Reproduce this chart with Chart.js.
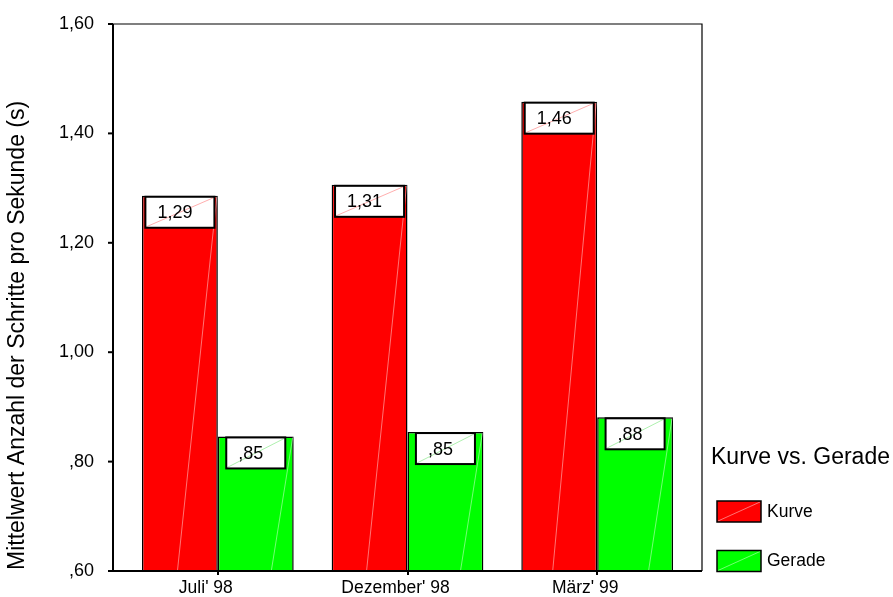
<!DOCTYPE html>
<html>
<head>
<meta charset="utf-8">
<script src="https://cdn.jsdelivr.net/npm/chart.js@4.4.0/dist/chart.umd.min.js"></script>
<style>
  html, body { margin: 0; padding: 0; background: #fff; }
  #wrap { width: 893px; height: 597px; }
</style>
</head>
<body>
<div id="wrap"><canvas id="c" width="893" height="597"></canvas></div>
<script>
// Daten
const categories = ["Juli' 98", "Dezember' 98", "März' 99"];
const kurve = [1.286, 1.306, 1.458];
const gerade = [0.846, 0.854, 0.881];
const seriesNames = ["Kurve", "Gerade"];
const seriesColors = ["#ff0000", "#00ff00"];
const yTicks = [0.6, 0.8, 1.0, 1.2, 1.4, 1.6];
const legendTitle = "Kurve vs. Gerade";
const yTitle = "Mittelwert Anzahl der Schritte pro Sekunde (s)";

const FONT = "'Liberation Sans', Arial, sans-serif";

// 0,85 -> ",85" (SPSS-Stil)
function fmt(v) {
  let s = v.toFixed(2).replace(".", ",");
  if (s.startsWith("0,")) s = s.slice(1);
  return s;
}

// Rahmen + Achsen-Extras
const FRAME = { left: 113, right: 702 };

const sketchPlugin = {
  id: "sketchPlugin",
  afterDatasetsDraw(chart) {
    const { ctx } = chart;
    ctx.save();
    chart.data.datasets.forEach((ds, di) => {
      const meta = chart.getDatasetMeta(di);
      meta.data.forEach((bar, i) => {
        const p = bar.getProps(["x", "y", "base", "width"], true);
        const l = p.x - p.width / 2, r = p.x + p.width / 2;
        // feine Diagonale im Balken
        ctx.strokeStyle = "rgba(255,255,255,0.45)";
        ctx.lineWidth = 1;
        ctx.beginPath();
        ctx.moveTo(l + 1, p.base - 1);
        ctx.lineTo(r - 1, p.y + 1);
        ctx.stroke();

        // Wertelabel im Kasten
        const txt = fmt(ds.data[i]);
        ctx.font = "18px " + FONT;
        const tw = ctx.measureText(txt).width;
        const bw = tw + 34, bh = 31;
        const bx = p.x - bw / 2, by = p.y + 1;
        ctx.fillStyle = "#fff";
        ctx.fillRect(bx, by, bw, bh);
        ctx.strokeStyle = di === 0 ? "rgba(255,120,120,0.6)" : "rgba(120,230,120,0.6)";
        ctx.lineWidth = 1;
        ctx.beginPath();
        ctx.moveTo(bx + 1, by + bh - 1);
        ctx.lineTo(bx + bw - 1, by + 1);
        ctx.stroke();
        ctx.strokeStyle = "#000";
        ctx.lineWidth = 2;
        ctx.strokeRect(bx, by, bw, bh);
        ctx.fillStyle = "#000";
        ctx.textAlign = "center";
        ctx.textBaseline = "middle";
        ctx.fillText(txt, p.x - 5, by + bh / 2 + 1);
      });
    });
    ctx.restore();
  },
  afterDraw(chart) {
    const { ctx, chartArea: ca, scales } = chart;
    ctx.save();
    // Rahmen
    ctx.strokeStyle = "#000";
    ctx.lineWidth = 1.2;
    ctx.beginPath();
    ctx.moveTo(FRAME.left, ca.top);
    ctx.lineTo(FRAME.right, ca.top);
    ctx.lineTo(FRAME.right, ca.bottom);
    ctx.stroke();
    ctx.lineWidth = 2;
    ctx.beginPath();
    ctx.moveTo(FRAME.left, ca.top);
    ctx.lineTo(FRAME.left, ca.bottom);
    ctx.lineTo(FRAME.right, ca.bottom);
    ctx.stroke();
    // y-Striche
    yTicks.forEach(v => {
      const y = scales.y.getPixelForValue(v);
      ctx.beginPath();
      ctx.moveTo(FRAME.left - 5, y);
      ctx.lineTo(FRAME.left, y);
      ctx.stroke();
    });
    // y-Titel
    ctx.fillStyle = "#000";
    ctx.font = "23px " + FONT;
    ctx.translate(18, 570);
    ctx.rotate(-Math.PI / 2);
    ctx.textAlign = "left";
    ctx.textBaseline = "middle";
    ctx.fillText(yTitle, 0, 0);
    ctx.setTransform(1, 0, 0, 1, 0, 0);

    // Legende
    ctx.font = "23px " + FONT;
    ctx.textBaseline = "alphabetic";
    ctx.fillText(legendTitle, 711, 464);
    ctx.font = "17.5px " + FONT;
    ctx.textBaseline = "middle";
    seriesNames.forEach((name, i) => {
      const sy = 501 + i * 49.5;
      ctx.fillStyle = seriesColors[i];
      ctx.fillRect(717, sy, 44, 21);
      ctx.strokeStyle = "rgba(255,255,255,0.45)";
      ctx.lineWidth = 1;
      ctx.beginPath();
      ctx.moveTo(718, sy + 20);
      ctx.lineTo(760, sy + 1);
      ctx.stroke();
      ctx.strokeStyle = "#000";
      ctx.lineWidth = 1.5;
      ctx.strokeRect(717, sy, 44, 21);
      ctx.fillStyle = "#000";
      ctx.fillText(name, 767, sy + 11);
    });
    ctx.restore();
  }
};

new Chart(document.getElementById("c"), {
  type: "bar",
  data: {
    labels: categories,
    datasets: [
      { label: seriesNames[0], data: kurve, backgroundColor: seriesColors[0],
        borderColor: "#000", borderWidth: 1.5, borderSkipped: false },
      { label: seriesNames[1], data: gerade, backgroundColor: seriesColors[1],
        borderColor: "#000", borderWidth: 1.5, borderSkipped: false }
    ]
  },
  options: {
    responsive: false,
    devicePixelRatio: 1,
    animation: false,
    layout: { padding: { left: 0, right: 201, top: 24, bottom: 0 } },
    datasets: { bar: { categoryPercentage: 0.8, barPercentage: 1.0 } },
    plugins: { legend: { display: false }, tooltip: { enabled: false } },
    scales: {
      x: {
        afterFit(s) {
          s.height = 26;
          s.paddingLeft = 0; s.paddingRight = 0; s.paddingTop = 0; s.paddingBottom = 0;
        },
        grid: { display: true, drawOnChartArea: false, offset: false,
                tickLength: 4, color: "#000", lineWidth: 2 },
        border: { display: false },
        ticks: { color: "#000", padding: 3, labelOffset: -12,
                 font: { family: FONT, size: 17.5 } }
      },
      y: {
        min: 0.6, max: 1.6,
        afterFit(s) {
          s.width = 123;
          s.paddingLeft = 0; s.paddingRight = 0; s.paddingTop = 0; s.paddingBottom = 0;
        },
        afterBuildTicks(s) { s.ticks = yTicks.map(v => ({ value: v })); },
        grid: { display: false, drawTicks: false },
        border: { display: false },
        ticks: { color: "#000", padding: 29, font: { family: FONT, size: 18 },
                 callback: v => fmt(v) }
      }
    }
  },
  plugins: [sketchPlugin]
});
</script>
</body>
</html>
